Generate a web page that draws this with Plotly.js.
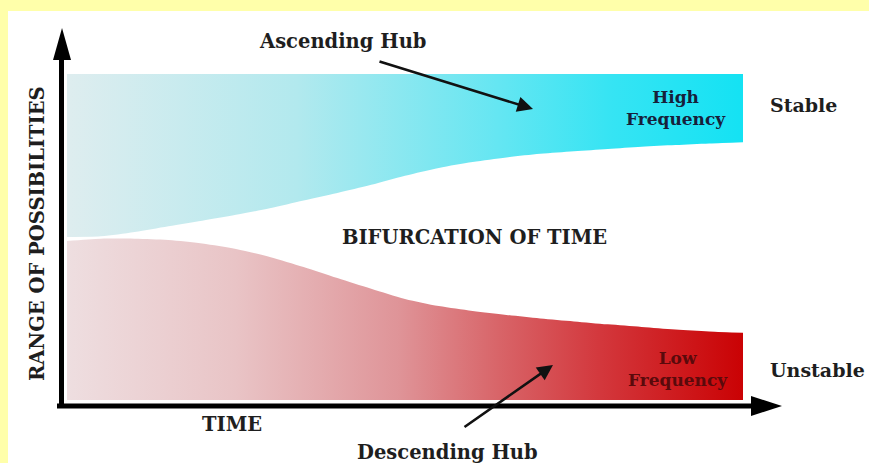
<!DOCTYPE html>
<html>
<head>
<meta charset="utf-8">
<script src="https://cdn.plot.ly/plotly-3.0.1.min.js"></script>
<style>html,body{margin:0;padding:0;background:#ffffaa;}#chart{width:869px;height:463px;}</style>
</head>
<body>
<div id="chart"></div>
<script>
// ---- data (time units 0..10, range-of-possibilities units 0..10) ----
const time = [0,0.5,1,1.5,2,2.5,3,3.5,4,4.5,5,5.5,6,6.5,7,7.5,8,8.5,9,9.5,10];
// Ascending hub (high frequency band): lower edge and upper edge
const ascLower = [5.00,5.02,5.15,5.33,5.50,5.68,5.88,6.12,6.35,6.60,6.88,7.12,7.30,7.44,7.55,7.63,7.70,7.77,7.82,7.87,7.91];
const ascUpper = [10,10,10,10,10,10,10,10,10,10,10,10,10,10,10,10,10,10,10,10,10];
// Descending hub (low frequency band): lower edge and upper edge
const descLower = [0,0,0,0,0,0,0,0,0,0,0,0,0,0,0,0,0,0,0,0,0];
const descUpper = [4.88,4.95,4.95,4.91,4.80,4.63,4.39,4.08,3.74,3.41,3.10,2.88,2.73,2.61,2.50,2.41,2.32,2.24,2.16,2.10,2.06];

const labels = {
  yTitle: 'RANGE OF POSSIBILITIES',
  xTitle: 'TIME',
  center: 'BIFURCATION OF TIME',
  asc: 'Ascending Hub',
  desc: 'Descending Hub',
  high: 'High<br>Frequency',
  low: 'Low<br>Frequency',
  stable: 'Stable',
  unstable: 'Unstable'
};

// ---- layout geometry (pixels) ----
const W = 869, H = 463;
const L = 61, R = 781, T = 28, B = 406;         // plot area
const X0PX = 67, X1PX = 743;                     // pixel of time 0 and 10
const Y0PX = 400, Y1PX = 74;                     // pixel of range 0 and 10
const xPer = (X1PX - X0PX) / 10, yPer = (Y0PX - Y1PX) / 10;
const xRange = [(L - X0PX) / xPer, (R - X0PX) / xPer];
const yRange = [(Y0PX - B) / yPer, (Y0PX - T) / yPer];
const px = x => (x - L) / (R - L);
const py = y => (B - y) / (B - T);

const font = (size, color) => ({family: '"DejaVu Serif", serif', size: size, color: color || '#1e1e1e', weight: 'bold'});

const noLine = {width: 0, color: 'rgba(0,0,0,0)', shape: 'spline', smoothing: 0.8};
const traces = [
  {x: time, y: ascLower, type: 'scatter', mode: 'lines', line: noLine, hoverinfo: 'skip', showlegend: false},
  {x: time, y: ascUpper, type: 'scatter', mode: 'lines', line: noLine, fill: 'tonexty', hoverinfo: 'skip', showlegend: false,
   fillgradient: {type: 'horizontal', colorscale: [[0,'rgb(222,237,239)'],[0.34,'rgb(178,233,238)'],[0.64,'rgb(100,230,242)'],[0.8,'rgb(55,228,243)'],[1,'rgb(20,226,243)']]}},
  {x: time, y: descLower, type: 'scatter', mode: 'lines', line: noLine, hoverinfo: 'skip', showlegend: false},
  {x: time, y: descUpper, type: 'scatter', mode: 'lines', line: noLine, fill: 'tonexty', hoverinfo: 'skip', showlegend: false,
   fillgradient: {type: 'horizontal', colorscale: [[0,'rgb(238,222,224)'],[0.25,'rgb(233,196,198)'],[0.49,'rgb(223,148,152)'],[0.64,'rgb(216,100,104)'],[0.79,'rgb(211,55,60)'],[1,'rgb(202,2,4)']]}}
];

const shapes = [
  {type: 'rect', xref: 'paper', yref: 'paper', x0: px(8), x1: px(W + 5), y0: py(H + 5), y1: py(11), fillcolor: '#ffffff', line: {width: 0}, layer: 'below'},
  // y axis line + arrowhead
  {type: 'line', xref: 'paper', yref: 'paper', x0: px(61.5), x1: px(61.5), y0: py(408), y1: py(52), line: {color: '#000', width: 5}},
  {type: 'path', xref: 'paper', yref: 'paper', path: `M ${px(53)} ${py(60)} L ${px(62)} ${py(28)} L ${px(71)} ${py(60)} Z`, fillcolor: '#000', line: {width: 0}},
  // x axis line + arrowhead
  {type: 'line', xref: 'paper', yref: 'paper', x0: px(57), x1: px(760), y0: py(406), y1: py(406), line: {color: '#000', width: 5}},
  {type: 'path', xref: 'paper', yref: 'paper', path: `M ${px(751)} ${py(396)} L ${px(782)} ${py(406)} L ${px(751)} ${py(416)} Z`, fillcolor: '#000', line: {width: 0}}
];

const ann = (text, x, y, size, opts) => Object.assign({text: text, xref: 'paper', yref: 'paper', x: px(x), y: py(y), showarrow: false, font: font(size), xanchor: 'center', yanchor: 'middle'}, opts || {});

const annotations = [
  ann(labels.yTitle, 37, 234, 19.5, {textangle: -90}),
  ann(labels.xTitle, 232, 424, 19.5),
  ann(labels.center, 475, 237, 19.5),
  ann(labels.asc, 342, 41, 19.5),
  ann(labels.desc, 447, 452, 19.5),
  ann(labels.high, 676, 108, 17, {font: font(17, '#17203a')}),
  ann(labels.low, 678, 369, 17, {font: font(17, '#5a0a0c')}),
  ann(labels.stable, 768, 105, 19, {xanchor: 'left'}),
  ann(labels.unstable, 768, 370, 19, {xanchor: 'left'}),
  // pointer arrows
  {text: '', xref: 'paper', yref: 'paper', axref: 'paper', ayref: 'paper', x: px(533), y: py(109), ax: px(378), ay: py(61), showarrow: true, arrowhead: 2, arrowsize: 1.2, arrowwidth: 2.6, arrowcolor: '#111'},
  {text: '', xref: 'paper', yref: 'paper', axref: 'paper', ayref: 'paper', x: px(553), y: py(365), ax: px(463), ay: py(428), showarrow: true, arrowhead: 2, arrowsize: 1.2, arrowwidth: 2.6, arrowcolor: '#111'}
];

const layout = {
  width: W, height: H,
  margin: {l: L, r: W - R, t: T, b: H - B, pad: 0},
  paper_bgcolor: '#ffffaa',
  plot_bgcolor: 'rgba(0,0,0,0)',
  xaxis: {range: xRange, visible: false, fixedrange: true},
  yaxis: {range: yRange, visible: false, fixedrange: true},
  shapes: shapes,
  annotations: annotations,
  showlegend: false
};

Plotly.newPlot('chart', traces, layout, {staticPlot: true, displayModeBar: false});
</script>
</body>
</html>
